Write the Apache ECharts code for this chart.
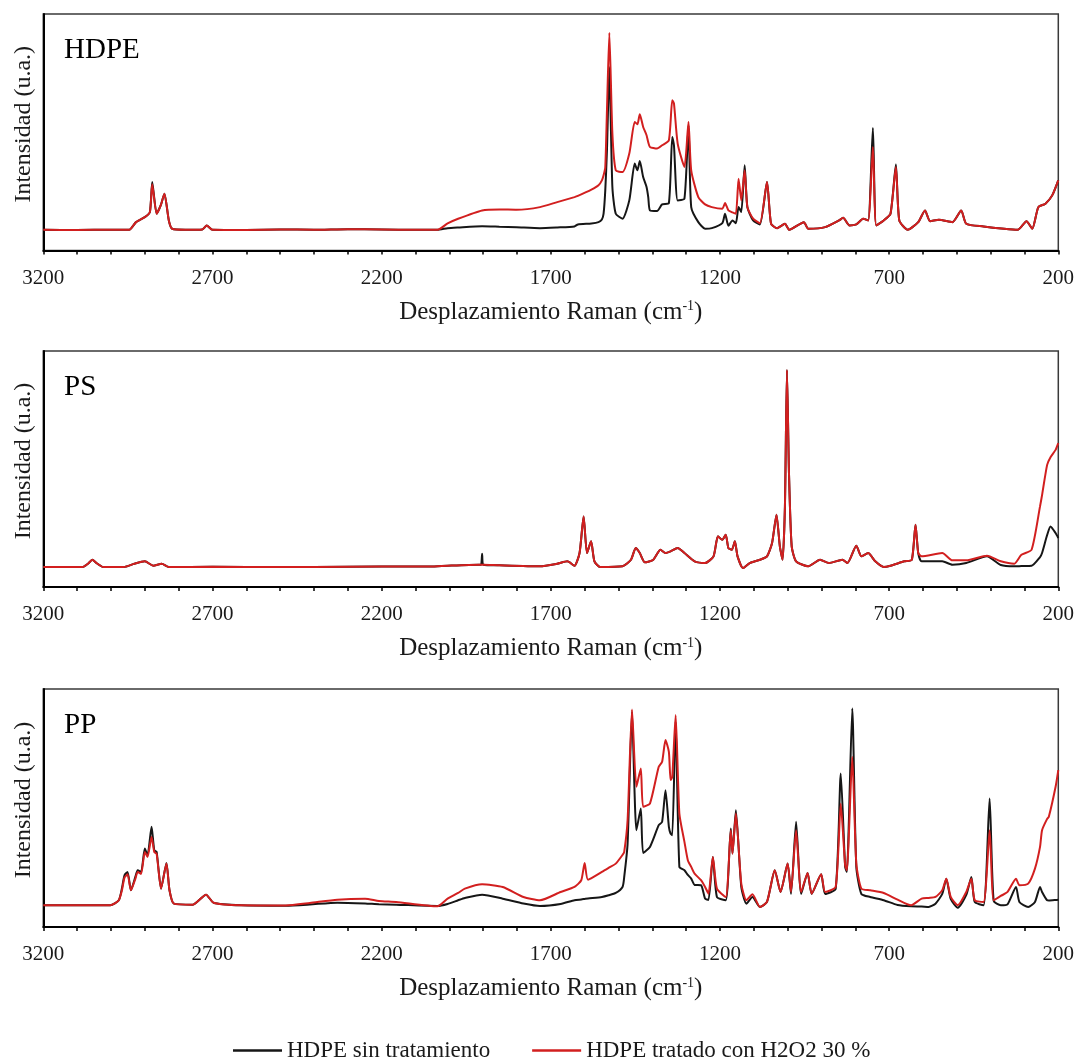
<!DOCTYPE html>
<html>
<head>
<meta charset="utf-8">
<script src="https://cdn.jsdelivr.net/npm/echarts@6/dist/echarts.min.js"></script>
<style>
html, body { margin: 0; padding: 0; background: #ffffff; }
#chart { width: 1079px; height: 1064px; }
</style>
</head>
<body>
<div id="chart"></div>
<script>
// ---------------- DATA (Raman shift in cm-1, intensity in arbitrary units) ----------------
const tickLabels = [3200, 2700, 2200, 1700, 1200, 700, 200];
const panelLabels = ['HDPE', 'PS', 'PP'];
const seriesNames = ['HDPE sin tratamiento', 'HDPE tratado con H2O2 30 %'];
const xTitle = 'Desplazamiento Raman (cm';
const xTitleSup = '-1';
const yTitle = 'Intensidad (u.a.)';

// HDPE
const hdpeWavenumber = [
  3200, 3100, 3000, 2946, 2926, 2900, 2885, 2878, 2865, 2853,
  2842, 2829, 2819, 2780, 2730, 2717, 2700, 2600, 2500, 2400,
  2300, 2200, 2100, 2035, 2005, 1974, 1903, 1852, 1801, 1732,
  1681, 1630, 1620, 1580, 1559, 1549, 1544, 1539, 1534, 1527,
  1518, 1508, 1488, 1468, 1452, 1444, 1437, 1427, 1417, 1412,
  1407, 1386, 1371, 1351, 1341, 1336, 1325, 1305, 1293, 1285,
  1264, 1244, 1224, 1193, 1185, 1175, 1163, 1153, 1145, 1137,
  1127, 1119, 1102, 1082, 1061, 1049, 1031, 1008, 995, 952,
  939, 889, 848, 836, 817, 797, 777, 762, 748, 738,
  716, 696, 680, 670, 645, 614, 594, 579, 553, 513,
  487, 472, 421, 360, 320, 294, 277, 259, 238, 218,
  200
];
const hdpeRaw = [
  20.7, 20.5, 20.8, 20.7, 28.3, 33.3, 38.3, 68.3, 36.7, 45,
  56.7, 30, 21.7, 20.7, 21, 25, 20.7, 20.5, 21, 20.7,
  21.3, 21, 20.7, 20.7, 22.3, 23, 24.3, 23.8, 23.3, 22.3,
  23, 24, 26, 27, 28.3, 31, 36.7, 60, 100, 183,
  63.3, 36.7, 31.7, 50, 86.7, 80, 89.3, 73.3, 63.3, 53.3,
  40, 39.3, 46, 47.3, 113.3, 105, 50, 51.7, 125, 43.3,
  28.3, 21.7, 22.3, 27.3, 36.7, 24.7, 30, 27.3, 43.3, 38.3,
  85, 43.3, 30, 26, 68.3, 26.7, 22.3, 26.7, 20.7, 28.3,
  21.7, 23.3, 30, 32.7, 25, 26, 31.7, 30, 122.3, 25,
  30, 36.7, 85.7, 30, 20.7, 28.3, 40, 29.3, 30.7, 28.3,
  40, 26.7, 24, 21.7, 20.7, 29.3, 21.7, 43.3, 46.7, 55,
  70
];
const hdpeTreated = [
  20.7, 20.5, 20.8, 20.7, 28.3, 33.3, 38.3, 66, 36.7, 45,
  56.7, 30, 21.7, 20.7, 21, 25, 20.7, 20.5, 21, 20.7,
  21.3, 21, 20.7, 20.7, 27, 31.7, 40, 41, 40.7, 43.3,
  48.3, 53.3, 54.5, 60.7, 65, 70, 75, 83, 140, 217.3,
  116.7, 80, 78.3, 96.7, 128.3, 126, 136, 123.3, 115, 108,
  103.3, 101.7, 105, 110, 150, 146.7, 106.7, 83.3, 128.3, 80,
  53.3, 46, 43.3, 41.7, 47.3, 40, 38, 36.7, 71.7, 50,
  80, 43.3, 31.7, 27.3, 68.3, 26.7, 22.3, 26.7, 20.7, 28.3,
  21.7, 23.3, 30, 32.7, 25, 26, 31.7, 30, 103.3, 25,
  30, 36.7, 83.3, 30, 20.7, 28.3, 40, 29.3, 30.7, 28.3,
  40, 26.7, 24, 21.7, 20.7, 29.3, 21.7, 43.3, 46.7, 55,
  70
];

// PS
const psWavenumber = [
  3200, 3100, 3084, 3068, 3055, 3043, 3023, 2962, 2931, 2900,
  2875, 2850, 2829, 2700, 2500, 2300, 2100, 2056, 2005, 1913,
  1906, 1903, 1899, 1852, 1732, 1681, 1651, 1630, 1615, 1603,
  1593, 1581, 1571, 1554, 1488, 1463, 1449, 1437, 1422, 1397,
  1376, 1361, 1346, 1325, 1305, 1275, 1244, 1219, 1206, 1193,
  1183, 1175, 1165, 1156, 1148, 1132, 1112, 1082, 1061, 1046,
  1033, 1023, 1015, 1008, 1002, 996, 988, 975, 939, 904,
  878, 838, 823, 797, 782, 762, 741, 716, 696, 655,
  633, 622, 614, 604, 543, 513, 472, 411, 370, 330,
  309, 279, 254, 248, 233, 223, 208, 200
];
const psRaw = [
  20, 20, 20, 23.3, 27.3, 24, 20, 20, 23.3, 25.7,
  21.3, 23.3, 20, 20.2, 20, 20.3, 20.5, 20.5, 21.3, 22.3,
  22.3, 33.3, 22.3, 21.7, 20.7, 23.3, 25.7, 21.3, 34, 70.7,
  34, 45.7, 25.7, 20, 20.7, 27.3, 39, 34, 24.7, 27.3,
  37.3, 34, 35.7, 39, 34, 25.7, 24, 30.7, 50.7, 47.3,
  52.3, 39, 37.3, 45.7, 30.7, 19, 24, 27.3, 30.7, 44,
  72.3, 40.7, 27.3, 80.7, 217.3, 114, 40.7, 25.7, 20.7, 27.3,
  24, 27.3, 24, 41.3, 30.7, 34, 25.7, 20, 21.3, 25.7,
  27.3, 62.3, 34, 25.7, 25.7, 22.3, 24, 30.7, 22, 20.7,
  21, 21.3, 30, 34, 52, 60.7, 54, 49
];
const psTreated = [
  20, 20, 20, 23.3, 27.3, 24, 20, 20, 23.3, 25.7,
  21.3, 23.3, 20, 20.2, 20, 20.3, 20.5, 20.5, 21.3, 22.3,
  22.3, 22.3, 22.3, 21.7, 20.7, 23.3, 25.7, 21.3, 34, 70.7,
  34, 45.7, 25.7, 20, 20.7, 27.3, 39, 34, 24.7, 27.3,
  37.3, 34, 35.7, 39, 34, 25.7, 24, 30.7, 50.7, 47.3,
  52.3, 39, 37.3, 45.7, 30.7, 19, 24, 27.3, 30.7, 44,
  72.3, 40.7, 27.3, 80.7, 217.3, 114, 40.7, 25.7, 20.7, 27.3,
  24, 27.3, 24, 41.3, 30.7, 34, 25.7, 20, 21.3, 25.7,
  27.3, 62.3, 34, 30.7, 34, 26.7, 26.7, 31.3, 25.7, 23.3,
  32.3, 37.3, 80.7, 92, 122.3, 130, 137.3, 144
];

// PP
const ppWavenumber = [
  3200, 3100, 3002, 2977, 2968, 2960, 2951, 2941, 2928, 2921,
  2911, 2900, 2892, 2880, 2872, 2865, 2852, 2836, 2827, 2814,
  2758, 2719, 2697, 2615, 2483, 2412, 2331, 2249, 2208, 2157,
  2035, 2005, 1974, 1954, 1903, 1842, 1781, 1732, 1671, 1630,
  1610, 1600, 1590, 1549, 1529, 1508, 1488, 1483, 1473, 1460,
  1447, 1434, 1427, 1407, 1381, 1371, 1361, 1351, 1346, 1341,
  1331, 1320, 1305, 1295, 1285, 1275, 1256, 1244, 1234, 1221,
  1209, 1183, 1168, 1163, 1153, 1137, 1122, 1104, 1082, 1061,
  1038, 1021, 1000, 990, 975, 960, 941, 929, 901, 889,
  858, 843, 830, 825, 809, 797, 782, 756, 716, 675,
  635, 604, 583, 563, 543, 531, 518, 497, 472, 457,
  447, 421, 403, 391, 370, 350, 325, 315, 289, 269,
  254, 248, 233, 228, 208, 200
];
const ppRaw = [
  21.7, 21.7, 21.7, 26.7, 38, 51.7, 55, 36.7, 50, 56.7,
  55, 78.3, 71.7, 100, 76.7, 75, 38.3, 64, 36.7, 23.3,
  22.3, 32.3, 24.3, 21.7, 21.3, 22.5, 24.3, 23.5, 22.7, 22.3,
  21, 23, 26.7, 29, 32.3, 28.3, 23.5, 21, 23, 26.7,
  27.5, 28, 28.5, 30, 31.7, 34, 40, 50, 83.3, 215,
  96.7, 118.3, 74, 80, 101.7, 105, 136.7, 100, 93.3, 91.7,
  205, 60, 56.7, 52, 48.3, 42, 41.7, 28.3, 27, 70,
  30, 26.7, 98.3, 73.3, 116.7, 40, 23.3, 30, 20, 25,
  56.7, 35, 63.3, 33, 105, 33, 54, 33, 52.7, 33,
  38, 153.3, 60, 55, 218.3, 60, 33, 30, 26.7, 22,
  20.7, 20.5, 20, 23.3, 33, 48.3, 28, 19.3, 32, 50,
  25, 21.7, 128.3, 26, 21.7, 22.7, 40, 25, 20, 25,
  40, 35, 26.7, 26.5, 27, 27.3
];
const ppTreated = [
  21.7, 21.7, 21.7, 26.7, 36, 49.3, 52.7, 36.7, 48, 55,
  53, 75, 70, 90, 75, 73, 38.3, 63.3, 36.7, 23.3,
  22.3, 32.3, 24.3, 21.7, 21.5, 24, 27.3, 28.3, 26, 25,
  20.7, 28.3, 34, 38.3, 42.7, 40, 30, 26.7, 35, 40,
  46.7, 64, 47.3, 55, 59, 63.3, 72, 75, 106.7, 217.3,
  140, 158.3, 120, 123.3, 160, 165, 186.7, 175, 146.7, 150,
  211.7, 113.3, 85, 66.7, 60, 53.3, 46.7, 40, 33.3, 70,
  38.3, 30, 96.7, 73.3, 113.3, 43.3, 26.7, 32.7, 20, 25,
  56.7, 35, 63.3, 35, 96.7, 35, 54, 33.3, 52.7, 35,
  40, 123.3, 61.7, 56.7, 170, 63.3, 38.3, 36.7, 34, 27.3,
  21.7, 28.3, 29, 30, 36.7, 48.3, 30, 21.7, 35, 48.3,
  26.7, 25, 96.7, 26.7, 31, 35, 48.3, 41.7, 43.3, 58.3,
  80, 96.7, 108, 110, 140, 156.7
];

// ---------------- STYLE / LAYOUT ----------------
const FONT = '"Liberation Serif", "Times New Roman", serif';
const TEXT = '#1a1a1a';
const COLORS = ['#161616', '#d21f1f'];

const panels = [
  { label: panelLabels[0], x: hdpeWavenumber, ys: [hdpeRaw, hdpeTreated], top: 14, height: 236.5, yMax: 236 },
  { label: panelLabels[1], x: psWavenumber, ys: [psRaw, psTreated], top: 351, height: 236, yMax: 236.3 },
  { label: panelLabels[2], x: ppWavenumber, ys: [ppRaw, ppTreated], top: 689, height: 238, yMax: 237.7 }
];

const zip = (xs, ys) => xs.map((x, i) => [x, ys[i]]);

const grid = [], xAxis = [], yAxis = [], series = [], graphic = [];
panels.forEach((p, i) => {
  grid.push({
    left: 43.3, right: 20.7, top: p.top, height: p.height,
    show: true, borderColor: '#3a3a3a', borderWidth: 1.5, containLabel: false
  });
  xAxis.push({
    gridIndex: i, type: 'value', inverse: true, min: 200, max: 3200, interval: 100,
    axisLine: { show: true, onZero: false, lineStyle: { color: '#000', width: 2 } },
    axisTick: { show: true, inside: false, length: 4, lineStyle: { color: '#000', width: 1.5 } },
    axisLabel: {
      margin: 17, fontFamily: FONT, fontSize: 21, color: TEXT,
      formatter: v => tickLabels.includes(v) ? String(v) : ''
    },
    splitLine: { show: false },
    name: '{t|' + xTitle + '}{s|' + xTitleSup + '}{t|)}',
    nameLocation: 'middle', nameGap: 49,
    nameTextStyle: {
      fontFamily: FONT, fontSize: 25, color: TEXT,
      rich: {
        t: { fontFamily: FONT, fontSize: 25, color: TEXT },
        s: { fontFamily: FONT, fontSize: 14, color: TEXT, verticalAlign: 'top' }
      }
    }
  });
  yAxis.push({
    gridIndex: i, type: 'value', min: 0, max: p.yMax,
    axisLine: { show: true, lineStyle: { color: '#000', width: 2 } },
    axisTick: { show: false }, axisLabel: { show: false }, splitLine: { show: false },
    name: yTitle, nameLocation: 'middle', nameRotate: 90, nameGap: 8,
    nameTextStyle: { fontFamily: FONT, fontSize: 24, color: TEXT, padding: [0, 0, 0, 16] }
  });
  p.ys.forEach((ys, k) => {
    series.push({
      type: 'line', name: seriesNames[k], xAxisIndex: i, yAxisIndex: i,
      data: zip(p.x, ys), showSymbol: false, symbol: 'none', smooth: 0.2,
      lineStyle: { color: COLORS[k], width: 2 }, itemStyle: { color: COLORS[k] },
      z: 2 + k
    });
  });
  graphic.push({
    type: 'text', x: 64, y: p.top + 36,
    style: { text: p.label, fontFamily: FONT, fontSize: 29, fill: '#000',
             textVerticalAlign: 'middle', verticalAlign: 'middle' }
  });
});

const chart = echarts.init(document.getElementById('chart'), null, { renderer: 'canvas' });
chart.setOption({
  animation: false,
  backgroundColor: '#ffffff',
  grid, xAxis, yAxis, series, graphic,
  legend: {
    data: seriesNames, left: 228, top: 1034, icon: 'rect',
    itemWidth: 49, itemHeight: 2.5, itemGap: 42,
    textStyle: { fontFamily: FONT, fontSize: 23, color: TEXT }
  }
});
</script>
</body>
</html>
